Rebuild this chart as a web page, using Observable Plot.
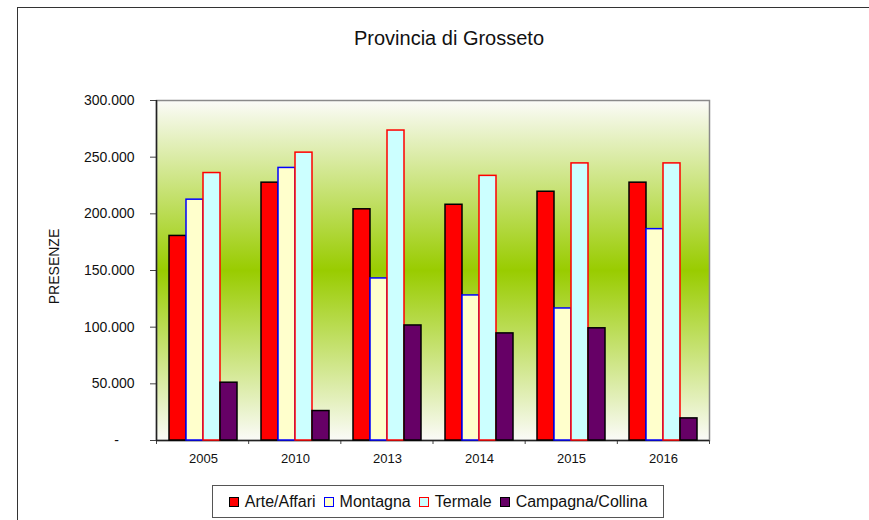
<!DOCTYPE html>
<html>
<head>
<meta charset="utf-8">
<script src="https://cdn.jsdelivr.net/npm/d3@7"></script>
<script src="https://cdn.jsdelivr.net/npm/@observablehq/plot@0.6"></script>
<style>
  html, body { margin: 0; padding: 0; background: #fff; overflow: hidden; }
  #wrap { position: relative; width: 869px; height: 520px; overflow: hidden; font-family: "Liberation Sans", Arial, sans-serif; }
  #wrap svg { position: absolute; left: 0; top: 0; }
  #border { position: absolute; left: 17px; top: 7px; width: 1000px; height: 1000px; border: 1.5px solid #333; box-sizing: border-box; }
  #legend { position: absolute; left: 212px; top: 485px; width: 452px; height: 33px; border: 1px solid #555; box-sizing: border-box;
            display: flex; align-items: center; justify-content: center; font-size: 16px; color: #111; background: #fff; }
  .item { display: flex; align-items: center; margin: 0 4px; }
  .sw { width: 8px; height: 8px; border: 1.5px solid #000; margin-right: 6px; }
</style>
</head>
<body>
<div id="wrap"><div id="border"></div></div>
<script>
const years = ["2005", "2010", "2013", "2014", "2015", "2016"];
const series = ["Arte/Affari", "Montagna", "Termale", "Campagna/Collina"];
const arte     = [180500, 227500, 204000, 208000, 219500, 227500];
const montagna = [212500, 240500, 143000, 128000, 116500, 186500];
const termale  = [236000, 254000, 273500, 233500, 244500, 244500];
const campagna = [51000, 26000, 101500, 94500, 99000, 19500];
const fills   = ["#ff0000", "#ffffcc", "#ccffff", "#660066"];
const strokes = ["#000000", "#0000ff", "#ff0000", "#000000"];
const yTicks = [0, 50000, 100000, 150000, 200000, 250000, 300000];
const title = "Provincia di Grosseto";
const yLabel = "PRESENZE";

const values = [arte, montagna, termale, campagna];
const data = years.flatMap((yr, i) => series.map((s, j) => ({year: yr, series: s, value: values[j][i]})));

const W = 869, H = 520;
const margins = {marginTop: 100, marginBottom: 80, marginLeft: 156, marginRight: 160};
const fmt = d => d === 0 ? "-\u00a0\u00a0\u00a0\u00a0" : d3.format(",")(d).replace(/,/g, ".");
const font = "Liberation Sans, Arial, sans-serif";

// Back layer: background, axes, boundary ticks, title, y label
const back = Plot.plot({
  width: W, height: H, ...margins,
  style: {fontFamily: font, background: "transparent", color: "#111"},
  x: {domain: [0, years.length], axis: null},
  y: {domain: [0, 300000], axis: null},
  marks: [
    Plot.frame({fill: "url(#bggrad)", stroke: "#8a8a8a", strokeWidth: 1.5}),
    Plot.axisY(yTicks, {tickSize: 6, tickPadding: 16, fontSize: 14, tickFormat: fmt, stroke: "#444", label: null}),
    Plot.axisX(d3.range(years.length + 1), {tickSize: 4, tickFormat: () => "", stroke: "#444", label: null}),
    Plot.ruleX([0], {stroke: "#222", strokeWidth: 1.5}),
    Plot.ruleY([0], {stroke: "#222", strokeWidth: 1.5}),
    Plot.text([title], {frameAnchor: "top", lineAnchor: "middle", dx: 16, dy: -62, fontSize: 20, fill: "#111"}),
    Plot.text([yLabel], {frameAnchor: "left", textAnchor: "middle", rotate: -90, dx: -102, dy: -4, fontSize: 14, fill: "#111"})
  ]
});
d3.select(back).insert("defs", ":first-child").html(
  `<linearGradient id="bggrad" x1="0" y1="0" x2="0" y2="1">
     <stop offset="0" stop-color="#fbfbf8"/>
     <stop offset="0.5" stop-color="#99cc00"/>
     <stop offset="1" stop-color="#fbfbf8"/>
   </linearGradient>`);

// Front layer: grouped bars via fx facets
const front = Plot.plot({
  width: W, height: H, ...margins,
  style: {fontFamily: font, background: "transparent", color: "#111"},
  fx: {domain: years, paddingInner: 0.262, paddingOuter: 0.131, label: null},
  x: {domain: series, padding: 0, axis: null},
  y: {domain: [0, 300000], axis: null},
  marks: [
    ...series.map((s, j) => Plot.barY(data.filter(d => d.series === s), {
      fx: "year", x: "series", y: "value", fill: fills[j], stroke: strokes[j], strokeWidth: 1.5
    })),
    Plot.axisFx({anchor: "bottom", tickSize: 0, tickPadding: 13, fontSize: 13, label: null})
  ]
});

const wrap = document.getElementById("wrap");
wrap.appendChild(back);
wrap.appendChild(front);

// Legend
const legend = document.createElement("div");
legend.id = "legend";
series.forEach((s, j) => {
  const it = document.createElement("div"); it.className = "item";
  const sw = document.createElement("div"); sw.className = "sw";
  sw.style.background = fills[j]; sw.style.borderColor = strokes[j];
  const tx = document.createElement("span"); tx.textContent = s;
  it.appendChild(sw); it.appendChild(tx); legend.appendChild(it);
});
wrap.appendChild(legend);
</script>
</body>
</html>
